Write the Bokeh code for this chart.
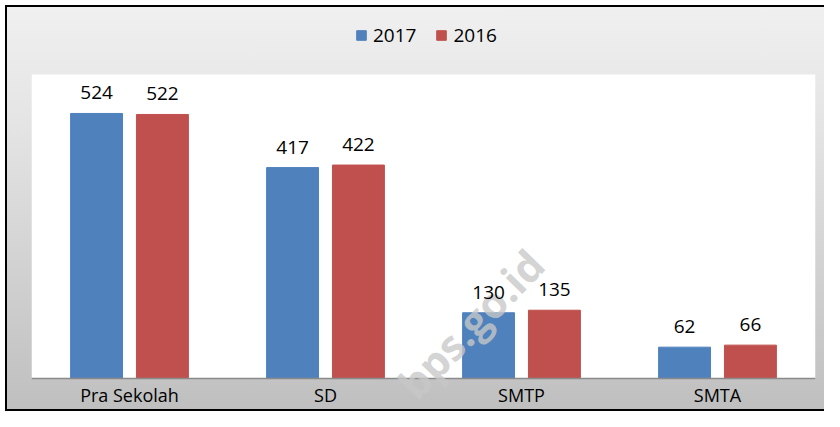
from bokeh.plotting import figure
from bokeh.models import (ColumnDataSource, FactorRange, Range1d, LabelSet, Legend,
                          LegendItem, Label, BoxAnnotation, Span)
from bokeh.core.properties import value
from bokeh.transform import dodge
from bokeh.embed import file_html
from bokeh.resources import INLINE

categories = ["Pra Sekolah", "SD", "SMTP", "SMTA"]
values_2017 = [524, 417, 130, 62]
values_2016 = [522, 422, 135, 66]
series_names = ["2017", "2016"]

Y_MAX = 601            # top of the white plot area (value axis maximum)
Y_BELOW = -65.2        # room under the baseline for category labels
Y_ABOVE = 747.3        # room above the plot area for the legend

FONT = "Open Sans"
BLUE = "#4F81BD"
RED = "#C0504D"

src = ColumnDataSource(data=dict(
    cat=categories,
    v2017=values_2017,
    v2016=values_2016,
    t2017=[str(v) for v in values_2017],
    t2016=[str(v) for v in values_2016],
))

p = figure(
    x_range=FactorRange(factors=categories, range_padding=0),
    y_range=Range1d(Y_BELOW, Y_ABOVE),
    width=824, height=411,
    output_backend="svg", toolbar_location=None,
    min_border_left=31, min_border_right=9, min_border_top=0, min_border_bottom=0,
)
p.border_fill_color = None
p.background_fill_color = None
p.outline_line_color = None
p.styles = {
    "background":
        "linear-gradient(#000,#000) 5px 5px / 819px 2px no-repeat, "
        "linear-gradient(#000,#000) 5px 5px / 2px 406px no-repeat, "
        "linear-gradient(#000,#000) 5px 409px / 819px 2px no-repeat, "
        "linear-gradient(to bottom, #f0f0f0 0%, #e4e4e4 30%, #bfbfbf 100%) 5px 5px / 819px 406px no-repeat, "
        "#ffffff",
}
p.xgrid.visible = False
p.ygrid.visible = False
p.yaxis.visible = False
p.xaxis.visible = False

white = BoxAnnotation(bottom=0, top=Y_MAX, fill_color="white", fill_alpha=1.0,
                      line_color=None, level="underlay")
p.add_layout(white)
base = Span(location=0, dimension="width", line_color="#8a8a8a", line_width=1.5)
p.add_layout(base)

r1 = p.vbar(x=dodge("cat", -0.168, range=p.x_range), top="v2017", width=0.265,
            source=src, fill_color=BLUE, line_color=BLUE)
r2 = p.vbar(x=dodge("cat", 0.168, range=p.x_range), top="v2016", width=0.265,
            source=src, fill_color=RED, line_color=RED)

wm = Label(x=439, y=88, x_units="screen", y_units="screen", text="bps.go.id",
           angle=0.8, text_align="center", text_baseline="middle",
           text_font=FONT, text_font_style="bold", text_font_size="42px",
           text_color="#c8c8c8", text_alpha=0.8)
p.add_layout(wm)

for off, col in [(-0.168, "2017"), (0.168, "2016")]:
    lab = LabelSet(x=dodge("cat", off, range=p.x_range), y="v" + col, text="t" + col,
                   source=src, text_align="center", text_baseline="alphabetic",
                   y_offset=14, text_font=value(FONT), text_font_size=value("19px"),
                   text_color="#000000")
    p.add_layout(lab)

cat_labels = LabelSet(x="cat", y=value(0), text="cat", source=src,
                      text_align="center", text_baseline="alphabetic", y_offset=-23,
                      text_font=value(FONT), text_font_size=value("18px"),
                      text_color="#000000")
p.add_layout(cat_labels)

legend = Legend(items=[LegendItem(label=series_names[0], renderers=[r1]),
                       LegendItem(label=series_names[1], renderers=[r2])],
                location=(324, 363), orientation="horizontal",
                glyph_width=12, glyph_height=12, label_standoff=6, spacing=19,
                padding=0, margin=0, border_line_color=None, background_fill_alpha=0,
                label_text_font=FONT, label_text_font_size="19px", label_text_color="#000000")
p.add_layout(legend)

open("out.html", "w").write(file_html(p, INLINE))
